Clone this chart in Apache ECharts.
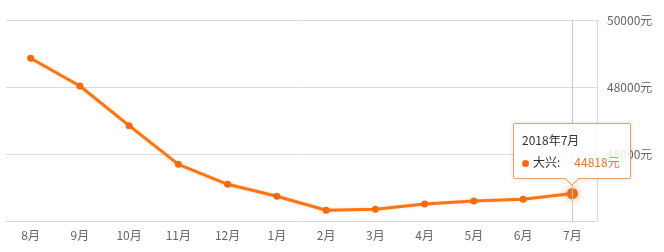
<!DOCTYPE html>
<html>
<head>
<meta charset="utf-8">
<script src="https://cdn.jsdelivr.net/npm/echarts@6/dist/echarts.min.js"></script>
<style>
html,body{margin:0;padding:0;background:#fff;}
#main{width:664px;height:252px;}
</style>
</head>
<body>
<div id="main"></div>
<script>
var categories = ['8月','9月','10月','11月','12月','1月','2月','3月','4月','5月','6月','7月'];
var periods = ['2017年8月','2017年9月','2017年10月','2017年11月','2017年12月','2018年1月','2018年2月','2018年3月','2018年4月','2018年5月','2018年6月','2018年7月'];
var seriesName = '大兴';
var prices = [48857, 48030, 46845, 45692, 45095, 44737, 44319, 44349, 44507, 44597, 44648, 44818];
var yMin = 44000, yMax = 50000, yStep = 2000;
var unit = '元';

var orange = '#f26b0f';
var font = '"Noto Sans CJK SC", "Microsoft YaHei", sans-serif';
var chart = echarts.init(document.getElementById('main'), null, {renderer: 'canvas'});
chart.setOption({
  animation: false,
  grid: {left: 6, right: 67, top: 20, bottom: 31},
  tooltip: {
    trigger: 'item',
    position: function (point, params, dom, rect, size) {
      return [point[0] - size.contentSize[0] / 2, point[1] - size.contentSize[1] - 15];
    },
    backgroundColor: 'rgba(255,255,255,0.85)',
    borderColor: '#e9a063',
    borderWidth: 1,
    padding: [5, 10, 5, 8],
    extraCssText: 'box-shadow:0 0 4px rgba(0,0,0,0.15);border-radius:2px;overflow:visible;',
    textStyle: {color: '#333', fontSize: 12, fontFamily: font},
    formatter: function (p) {
      return '<div style="line-height:22px;font-size:12px;color:#333">' + periods[p.dataIndex] + '</div>' +
        '<div style="line-height:22px;font-size:12px;color:#333"><span style="display:inline-block;width:7px;height:7px;border-radius:50%;background:' + orange + ';margin-right:4px;vertical-align:middle"></span>' +
        p.seriesName + ':<span style="margin-left:14px;color:#e07a32">' + p.value + unit + '</span></div>' +
        '<div style="position:absolute;left:50%;bottom:-6px;width:9px;height:9px;margin-left:-5px;background:#fff;border-right:1px solid #e9a063;border-bottom:1px solid #e9a063;transform:rotate(45deg);"></div>';
    }
  },
  xAxis: {
    type: 'category',
    data: categories,
    boundaryGap: true,
    axisLine: {lineStyle: {color: '#d6d6d6', width: 1}},
    axisTick: {alignWithLabel: true, length: 4, lineStyle: {color: '#d6d6d6'}},
    axisLabel: {color: '#666', fontSize: 12, fontFamily: font, margin: 8},
    splitLine: {show: false}
  },
  yAxis: {
    type: 'value',
    position: 'right',
    min: yMin, max: yMax, interval: yStep,
    axisLine: {show: true, lineStyle: {color: '#dcdcdc'}},
    axisTick: {show: false},
    axisLabel: {
      color: '#666', fontSize: 12, fontFamily: font, margin: 10,
      formatter: function (v) { return v === yMin ? '' : v + unit; }
    },
    splitLine: {lineStyle: {color: '#dcdcdc'}}
  },
  series: [{
    type: 'line',
    data: [],
    z: 1,
    silent: true,
    tooltip: {show: false},
    markLine: {
      silent: true,
      symbol: 'none',
      label: {show: false},
      lineStyle: {color: '#c8c8c8', type: 'solid', width: 1},
      data: [{xAxis: categories.length - 1}]
    }
  }, {
    name: seriesName,
    type: 'line',
    z: 3,
    data: prices,
    symbol: 'circle',
    symbolSize: 7,
    lineStyle: {color: orange, width: 3, shadowColor: 'rgba(242,107,15,0.25)', shadowBlur: 3},
    itemStyle: {color: orange},
    emphasis: {
      scale: 1.6,
      itemStyle: {color: orange, borderWidth: 0, shadowColor: 'rgba(242,107,15,0.6)', shadowBlur: 8}
    }
  }]
});
setTimeout(function () {
  chart.dispatchAction({type: 'highlight', seriesIndex: 1, dataIndex: 11});
  chart.dispatchAction({type: 'showTip', seriesIndex: 1, dataIndex: 11});
}, 50);
</script>
</body>
</html>
